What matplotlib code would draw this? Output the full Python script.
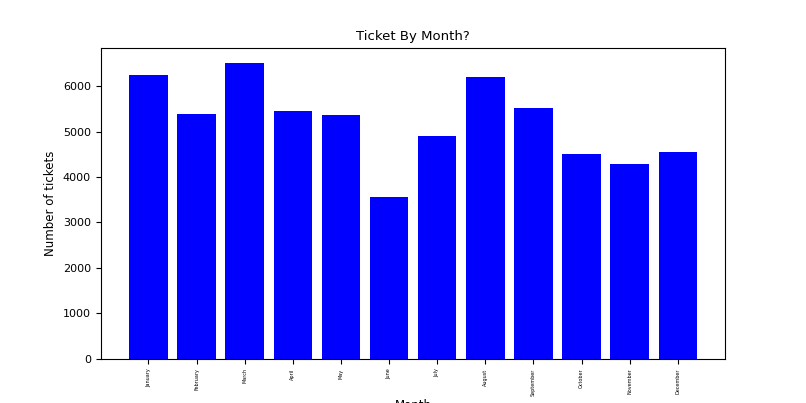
import matplotlib
matplotlib.use("Agg")
import matplotlib.pyplot as plt

months = ["January", "February", "March", "April", "May", "June", "July",
          "August", "September", "October", "November", "December"]
tickets = [6250, 5400, 6510, 5446, 5357, 3560, 4915, 6195, 5512, 4516, 4295, 4560]

fig, ax = plt.subplots(figsize=(8.06, 4.03), dpi=100)
ax.bar(months, tickets, color="blue")
ax.set_title("Ticket By Month?", fontsize=9.5)
ax.set_xlabel("Month", fontsize=8.5, labelpad=2)
ax.set_ylabel("Number of tickets", fontsize=8.5)
ax.tick_params(axis="x", labelrotation=90, labelsize=3.5)
ax.tick_params(axis="y", labelsize=8)
fig.savefig("out.png")
